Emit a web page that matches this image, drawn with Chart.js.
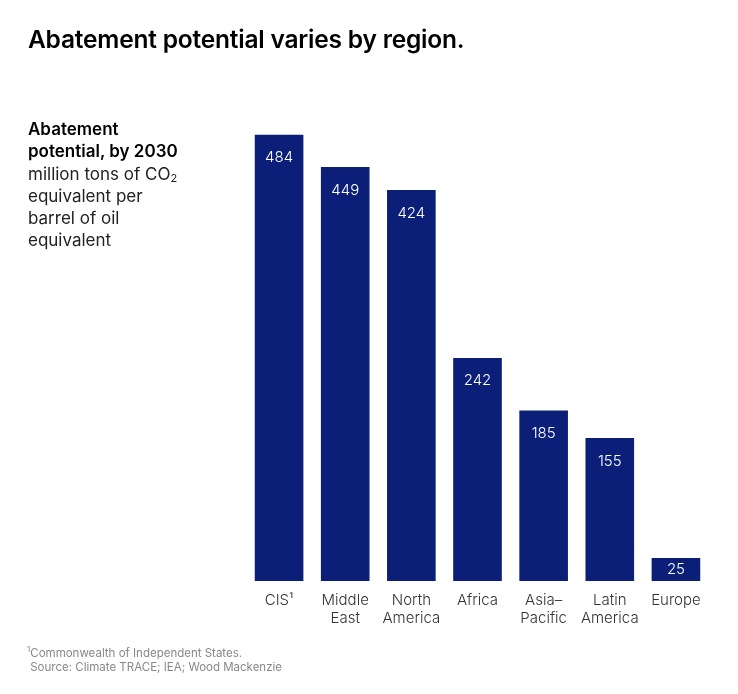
<!DOCTYPE html>
<html>
<head>
<meta charset="utf-8">
<script src="https://cdn.jsdelivr.net/npm/chart.js@4"></script>
<style>
  body { margin: 0; background: #fff; font-family: Inter, "Noto Sans", sans-serif; }
  #wrap { position: relative; width: 738px; height: 694px; }
  canvas { position: absolute; left: 0; top: 0; }
  .title { position: absolute; left: 28px; top: 24px; font-size: 24.5px; font-weight: 600; color: #000; letter-spacing: -0.2px; }
  .side { position: absolute; left: 28px; top: 118px; font-size: 17px; line-height: 22.3px; color: #222; }
  .side b { font-weight: 600; color: #000; }
  .side sub { font-size: 11px; line-height: 0; vertical-align: -2px; }
  .note { position: absolute; left: 27px; top: 646px; font-size: 11.5px; line-height: 14px; color: #888; }
</style>
</head>
<body>
<div id="wrap">
  <canvas id="grfc"></canvas>
  <div class="title">Abatement potential varies by region.</div>
  <div class="side"><b>Abatement<br>potential, by 2030</b><br>million tons of CO<sub>2</sub><br>equivalent per<br>barrel of oil<br>equivalent</div>
  <div class="note"><sup style="font-size:8px;line-height:0">1</sup>Commonwealth of Independent States.<br>&nbsp;Source: Climate TRACE; IEA; Wood Mackenzie</div>
</div>
<script>
const regioes = [['CIS¹'], ['Middle', 'East'], ['North', 'America'], ['Africa'], ['Asia–', 'Pacific'], ['Latin', 'America'], ['Europe']];
const valores = [484, 449, 424, 242, 185, 155, 25];

const rotulos = {
  id: 'rotulos',
  afterDatasetsDraw(chart) {
    let ctx = chart.ctx;
    let meta = chart.getDatasetMeta(0);
    ctx.save();
    ctx.fillStyle = '#fff';
    ctx.font = '300 15px Inter, "Noto Sans", sans-serif';
    ctx.textAlign = 'center';
    ctx.textBaseline = 'middle';
    meta.data.forEach((bar, i) => {
      let y = Math.min(bar.y + 23, (bar.y + bar.base) / 2);
      ctx.fillText(valores[i], bar.x, y);
    });
    ctx.restore();
  }
};

let ctx1 = document.getElementById('grfc');
ctx1.width = 738;
ctx1.height = 694;
new Chart(ctx1, {
  type: 'bar',
  data: {
    labels: regioes,
    datasets: [{
      data: valores,
      backgroundColor: '#0b1f78',
      categoryPercentage: 1,
      barPercentage: 0.735
    }]
  },
  options: {
    responsive: false,
    animation: false,
    layout: { padding: { left: 246, right: 29, top: 120, bottom: 57 } },
    plugins: { legend: { display: false }, tooltip: { enabled: false } },
    scales: {
      x: {
        grid: { display: false, drawTicks: false },
        border: { display: false },
        ticks: { color: '#333', font: { size: 15, weight: 300, family: 'Inter, "Noto Sans", sans-serif' }, padding: 10 }
      },
      y: { display: false, min: 0, max: 500 }
    }
  },
  plugins: [rotulos]
});
</script>
</body>
</html>
